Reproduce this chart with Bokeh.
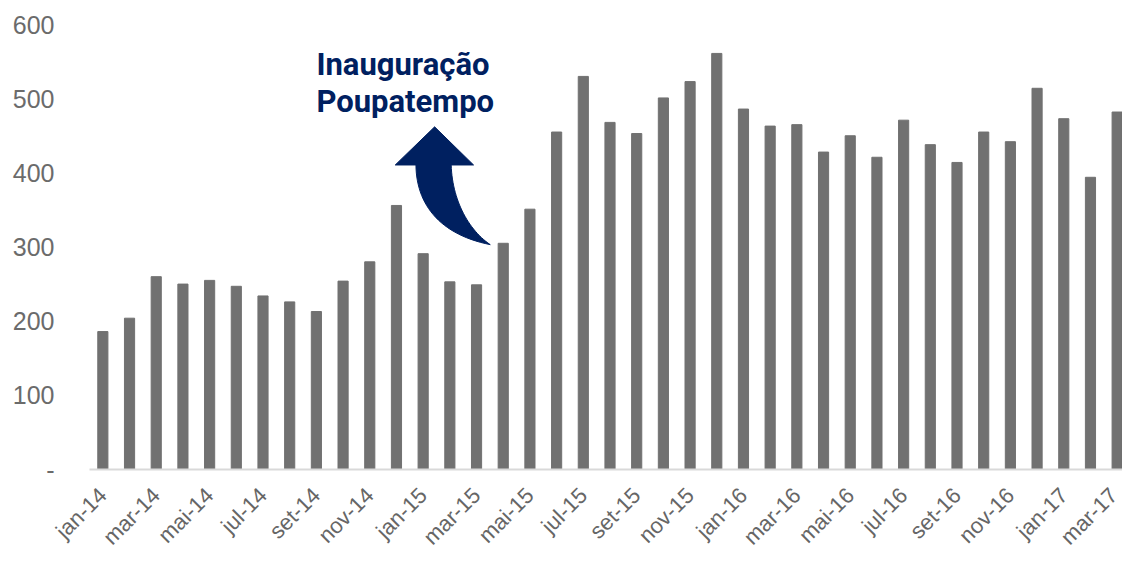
import numpy as np
from math import pi
from bokeh.plotting import figure
from bokeh.models import FixedTicker, ColumnDataSource
from bokeh.core.properties import value
from bokeh.embed import file_html
from bokeh.resources import INLINE

months = ["jan-14", "fev-14", "mar-14", "abr-14", "mai-14", "jun-14", "jul-14", "ago-14", "set-14", "out-14", "nov-14", "dez-14",
          "jan-15", "fev-15", "mar-15", "abr-15", "mai-15", "jun-15", "jul-15", "ago-15", "set-15", "out-15", "nov-15", "dez-15",
          "jan-16", "fev-16", "mar-16", "abr-16", "mai-16", "jun-16", "jul-16", "ago-16", "set-16", "out-16", "nov-16", "dez-16",
          "jan-17", "fev-17", "mar-17"]
values = [186, 204, 260, 250, 255, 247, 234, 226, 213, 254, 280, 356,
          291, 253, 249, 305, 351, 455, 530, 468, 453, 501, 523, 561,
          486, 463, 465, 428, 450, 421, 471, 438, 414, 455, 442, 514,
          473, 394, 482]
y_ticks = [0, 100, 200, 300, 400, 500, 600]
annotation_lines = ["Inauguração", "Poupatempo"]

idx = list(range(len(months)))

p = figure(width=1122, height=561, output_backend="svg", toolbar_location=None,
           x_range=(-0.5, 38.2), y_range=(0, 600),
           min_border_left=89, min_border_right=0, min_border_top=24, min_border_bottom=90)
p.outline_line_color = None
p.xgrid.grid_line_color = None
p.ygrid.grid_line_color = None
p.background_fill_color = "white"
p.border_fill_color = "white"

p.vbar(x=idx, top=values, width=0.38, color="#717171")

# x axis
p.xaxis.ticker = FixedTicker(ticks=idx[::2])
p.xaxis.major_label_overrides = {i: months[i] for i in idx[::2]}
p.xaxis.major_label_orientation = pi / 4
p.xaxis.major_label_text_font = "Liberation Sans"
p.xaxis.major_label_text_font_size = "22px"
p.xaxis.major_label_text_color = "#666666"
p.xaxis.major_label_standoff = 16
p.xaxis.axis_line_color = "#d9d9d9"
p.xaxis.axis_line_width = 2
p.xaxis.major_tick_line_color = None
p.xaxis.minor_tick_line_color = None

# y axis
p.yaxis.ticker = FixedTicker(ticks=y_ticks)
p.yaxis.major_label_overrides = {0: "-"}
p.yaxis.major_label_text_font = "Liberation Sans"
p.yaxis.major_label_text_font_size = "25px"
p.yaxis.major_label_text_color = "#6b6b6b"
p.yaxis.major_label_standoff = 29
p.yaxis.axis_line_color = None
p.yaxis.major_tick_line_color = None
p.yaxis.minor_tick_line_color = None

# annotation text
src = ColumnDataSource(dict(x=[8.0, 8.0], y=[546.5, 496.5], t=annotation_lines))
p.text(x="x", y="y", text="t", source=src, text_font=value("Roboto"),
       text_font_style="bold", text_font_size="31px", text_color="#002060",
       text_baseline="alphabetic", text_align="left")

# curved arrow
def cubic(P0, P1, P2, P3, n=30):
    t = np.linspace(0, 1, n)[:, None]
    P0, P1, P2, P3 = map(np.array, (P0, P1, P2, P3))
    return ((1 - t) ** 3) * P0 + 3 * ((1 - t) ** 2) * t * P1 + 3 * (1 - t) * t ** 2 * P2 + t ** 3 * P3

tip = (12.43, 462.0)
head_y = 410.6
head_l, head_r = 10.955, 13.888
stem_l, stem_r = 11.73, 13.05
tail = (14.513, 303.2)
right_edge = cubic((stem_r, head_y), (13.09, 363.6), (13.689, 323.3), tail)
left_edge = cubic((stem_l, head_y), (11.742, 356.9), (12.64, 316.6), tail)[::-1]
xs = [head_l, tip[0], head_r] + list(right_edge[:, 0]) + list(left_edge[:, 0])
ys = [head_y, tip[1], head_y] + list(right_edge[:, 1]) + list(left_edge[:, 1])
p.patch(xs, ys, fill_color="#002060", line_color="#002060", line_width=1)

open("out.html", "w").write(file_html(p, INLINE))
